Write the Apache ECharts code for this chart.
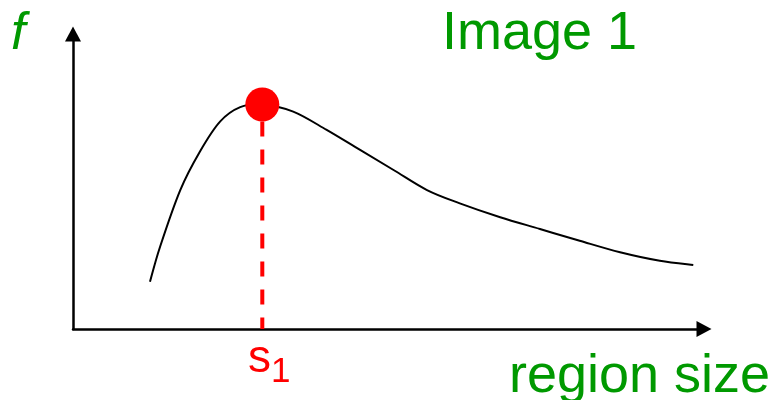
<!DOCTYPE html>
<html>
<head>
<meta charset="utf-8">
<script src="https://cdn.jsdelivr.net/npm/echarts@6/dist/echarts.min.js"></script>
<style>html,body{margin:0;padding:0;background:#fff}#c{width:771px;height:400px}</style>
</head>
<body>
<div id="c"></div>
<script>
// Curve (x: region size, y: f), arbitrary units 0..100
var curveX = [12.2, 13.8, 17.0, 20.1, 23.3, 26.5, 30.0, 34.9, 40.2, 45.5, 50.8, 56.1, 61.3, 67.7, 74.0, 80.3, 86.7, 93.0, 98.3];
var curveY = [16.0, 27.9, 47.1, 60.1, 70.3, 75.2, 76.1, 73.7, 67.5, 60.7, 53.9, 47.1, 42.6, 37.9, 33.9, 29.9, 26.0, 23.1, 21.7];
// Peak (s1)
var peakX = 30.0;
var peakY = 76.1;
// Axis ranges
var xRange = [0, 100];
var yRange = [0, 100];
// Labels
var yLabel = 'f';
var xLabel = 'region size';
var titleText = 'Image 1';
var peakLabel = 's';
var peakSub = '1';

var GREEN = '#009900', RED = '#ff0000';
var FONT = '"Liberation Sans", Arial, sans-serif';

var chart = echarts.init(document.getElementById('c'), null, {renderer: 'canvas'});
var axisCommon = {
  type: 'value',
  axisLabel: {show: false},
  axisTick: {show: false},
  splitLine: {show: false},
  axisLine: {show: true, onZero: false, symbol: ['none', 'triangle'], symbolSize: [16, 15], lineStyle: {color: '#000', width: 2.5}}
};

// Smooth (Catmull-Rom) curve through the data points, positioned by the axes
function renderCurve(params, api) {
  if (params.dataIndex !== 0) return;
  var n = params.dataInsideLength || curveX.length;
  var pts = [];
  for (var i = 0; i < curveX.length; i++) {
    pts.push(api.coord([curveX[i], curveY[i]]));
  }
  var d = 'M' + pts[0][0] + ' ' + pts[0][1];
  for (var j = 0; j < pts.length - 1; j++) {
    var p0 = pts[j > 0 ? j - 1 : j], p1 = pts[j], p2 = pts[j + 1], p3 = pts[j + 2 < pts.length ? j + 2 : j + 1];
    var c1x = p1[0] + (p2[0] - p0[0]) / 6, c1y = p1[1] + (p2[1] - p0[1]) / 6;
    var c2x = p2[0] - (p3[0] - p1[0]) / 6, c2y = p2[1] - (p3[1] - p1[1]) / 6;
    d += ' C' + c1x + ' ' + c1y + ' ' + c2x + ' ' + c2y + ' ' + p2[0] + ' ' + p2[1];
  }
  return {
    type: 'path',
    shape: {pathData: d},
    style: {stroke: '#000', lineWidth: 2, fill: 'none'}
  };
}

chart.setOption({
  animation: false,
  backgroundColor: '#fff',
  grid: {left: 73, right: 67, top: 34, bottom: 71, containLabel: false},
  xAxis: Object.assign({}, axisCommon, {min: xRange[0], max: xRange[1]}),
  yAxis: Object.assign({}, axisCommon, {min: yRange[0], max: yRange[1]}),
  series: [
    {
      type: 'custom',
      renderItem: renderCurve,
      data: curveX.map(function (x, i) { return [x, curveY[i]]; }),
      encode: {x: 0, y: 1},
      clip: false,
      z: 2
    },
    {
      type: 'line',
      data: [[peakX, peakY], [peakX, yRange[0]]],
      symbol: 'none',
      lineStyle: {color: RED, width: 4, type: [15, 13], dashOffset: 11},
      z: 3
    },
    {
      type: 'scatter',
      data: [[peakX, peakY]],
      symbol: 'circle',
      symbolSize: 34,
      itemStyle: {color: RED, opacity: 1},
      z: 4
    }
  ],
  graphic: [
    {type: 'text', z: 10, style: {text: yLabel, x: 11, y: 35, font: 'italic 52px ' + FONT, fill: GREEN, verticalAlign: 'middle'}},
    {type: 'text', z: 10, style: {text: titleText, x: 442, y: 34, font: '54px ' + FONT, fill: GREEN, verticalAlign: 'middle'}},
    {type: 'text', z: 10, style: {text: xLabel, x: 509, y: 377, font: '54px ' + FONT, fill: GREEN, verticalAlign: 'middle'}},
    {type: 'text', z: 10, style: {text: peakLabel, x: 248, y: 359, font: '46px ' + FONT, fill: RED, verticalAlign: 'middle'}},
    {type: 'text', z: 10, style: {text: peakSub, x: 271, y: 372, font: '35px ' + FONT, fill: RED, verticalAlign: 'middle'}}
  ]
});
</script>
</body>
</html>
